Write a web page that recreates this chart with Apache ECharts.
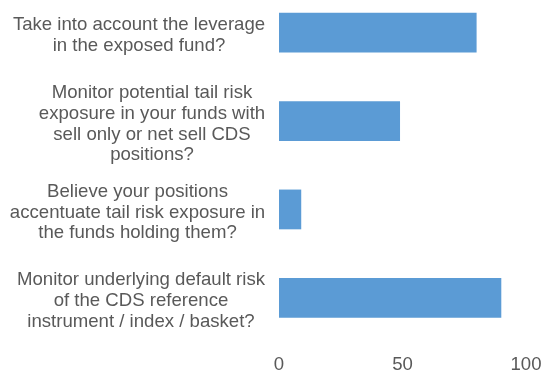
<!DOCTYPE html>
<html>
<head>
<meta charset="utf-8">
<script src="https://cdn.jsdelivr.net/npm/echarts@6/dist/echarts.min.js"></script>
<style>
html,body{margin:0;padding:0;background:#fff;overflow:hidden;width:545px;height:374px;}
#wrap{position:relative;width:545px;height:374px;overflow:hidden;}
#chart{position:absolute;left:0;top:-12px;width:545px;height:386px;}
</style>
</head>
<body>
<div id="wrap"><div id="chart"></div></div>
<script>
const categories = [
  "Take into account the leverage\nin the exposed fund?",
  "Monitor potential tail risk\nexposure in your funds with\nsell only or net sell CDS\npositions?",
  "Believe your positions\naccentuate tail risk exposure in\nthe funds holding them?",
  "Monitor underlying default risk\nof the CDS reference\ninstrument / index / basket?"
];
const values = [80, 49, 9, 90];
const xTicks = [0, 50, 100];

const FONT_FAMILY = '"Liberation Sans", Arial, sans-serif';
const FONT_SIZE = 18.6;
const ctx = document.createElement('canvas').getContext('2d');
ctx.font = FONT_SIZE + 'px ' + FONT_FAMILY;
const rich = {};
categories.forEach((c, i) => {
  const w = Math.max(...c.split('\n').map(l => ctx.measureText(l).width));
  rich['c' + i] = {
    width: Math.ceil(w) + 1,
    align: 'center',
    fontSize: FONT_SIZE,
    lineHeight: 20.8,
    fontFamily: FONT_FAMILY,
    color: '#595959'
  };
});

const chart = echarts.init(document.getElementById('chart'), null, {renderer: 'canvas'});
chart.setOption({
  animation: false,
  backgroundColor: '#fff',
  grid: {left: 279, right: 19, top: 0.5, bottom: 29.5, containLabel: false},
  xAxis: {
    type: 'value',
    min: xTicks[0],
    max: xTicks[xTicks.length - 1],
    interval: xTicks[1] - xTicks[0],
    axisLine: {show: false},
    axisTick: {show: false},
    splitLine: {show: false},
    axisLabel: {
      fontSize: FONT_SIZE,
      fontFamily: FONT_FAMILY,
      color: '#595959',
      margin: 13
    }
  },
  yAxis: {
    type: 'category',
    inverse: true,
    data: categories,
    axisLine: {show: false},
    axisTick: {show: false},
    splitLine: {show: false},
    axisLabel: {
      margin: 13,
      align: 'right',
      padding: [6, 0, 0, 0],
      formatter: function (value, index) {
        return value.split('\n').map(l => '{c' + index + '|' + l + '}').join('\n');
      },
      rich: rich
    }
  },
  series: [{
    type: 'bar',
    data: values,
    barCategoryGap: '55%',
    itemStyle: {color: '#5B9BD5'}
  }]
});
</script>
</body>
</html>
